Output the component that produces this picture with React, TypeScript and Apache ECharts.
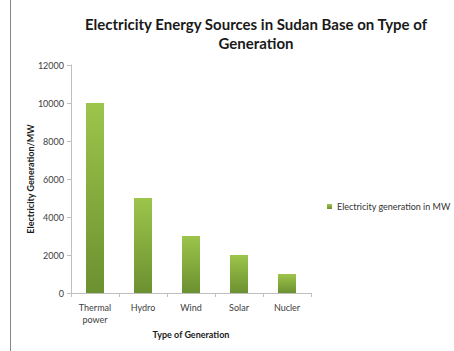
import React, { useEffect, useRef } from "react";
import * as echarts from "echarts";

const categories = ["Thermal\npower", "Hydro", "Wind", "Solar", "Nucler"];
const values = [10000, 5000, 3000, 2000, 1000];
const seriesName = "Electricity generation in MW";
const titleText = "Electricity Energy Sources in Sudan Base on Type of\nGeneration";
const yName = "Electricity Generation/MW";
const xName = "Type of Generation";

const FONT = "Lato, 'Open Sans', sans-serif";

export default function App() {
  const ref = useRef<HTMLDivElement>(null);
  useEffect(() => {
    const chart = echarts.init(ref.current!, null, { renderer: "svg" });
    const grad = new echarts.graphic.LinearGradient(0, 0, 0, 1, [
      { offset: 0, color: "#9dc54b" },
      { offset: 1, color: "#6c9030" },
    ]);
    chart.setOption({
      animation: false,
      backgroundColor: "#ffffff",
      textStyle: { fontFamily: FONT },
      title: {
        text: titleText,
        left: 251,
        textAlign: "center",
        top: 9,
        textStyle: { fontFamily: FONT, fontSize: 15, fontWeight: "bold", color: "#1a1a1a", lineHeight: 19 },
      },
      legend: {
        orient: "vertical",
        left: 322,
        top: 197,
        itemWidth: 5,
        itemHeight: 5,
        itemGap: 4,
        icon: "rect",
        textStyle: { fontFamily: FONT, fontSize: 9, color: "#333" },
        data: [seriesName],
      },
      graphic: [
        {
          type: "line",
          shape: { x1: 10.5, y1: 0, x2: 10.5, y2: 351 },
          style: { stroke: "#888", lineWidth: 1 },
        },
      ],
      grid: { left: 71, right: 143, top: 65, bottom: 58 },
      xAxis: {
        type: "category",
        data: categories,
        name: xName,
        nameLocation: "middle",
        nameGap: 37,
        nameMoveOverlap: false,
        nameTextStyle: { fontFamily: FONT, fontSize: 9, fontWeight: "bold", color: "#1a1a1a" },
        axisLine: { lineStyle: { color: "#bfbfbf" } },
        axisTick: { show: true, alignWithLabel: false, length: 4, lineStyle: { color: "#bfbfbf" } },
        axisLabel: { fontFamily: FONT, fontSize: 9, color: "#404040", margin: 8, lineHeight: 12, interval: 0 },
      },
      yAxis: {
        type: "value",
        min: 0,
        max: 12000,
        interval: 2000,
        name: yName,
        nameLocation: "middle",
        nameGap: 36,
        nameRotate: 90,
        nameMoveOverlap: false,
        nameTextStyle: { fontFamily: FONT, fontSize: 9, fontWeight: "bold", color: "#1a1a1a" },
        axisLine: { show: true, lineStyle: { color: "#bfbfbf" } },
        axisTick: { show: true, length: 4, lineStyle: { color: "#bfbfbf" } },
        splitLine: { show: false },
        axisLabel: { fontFamily: FONT, fontSize: 9, color: "#404040", margin: 7, formatter: (v: number) => String(v) },
      },
      series: [
        {
          name: seriesName,
          type: "bar",
          data: values,
          barWidth: 18,
          itemStyle: { color: grad },
        },
      ],
    });
    return () => chart.dispose();
  }, []);
  return <div ref={ref} style={{ width: 454, height: 351, position: "absolute", left: 0, top: 0 }} />;
}
